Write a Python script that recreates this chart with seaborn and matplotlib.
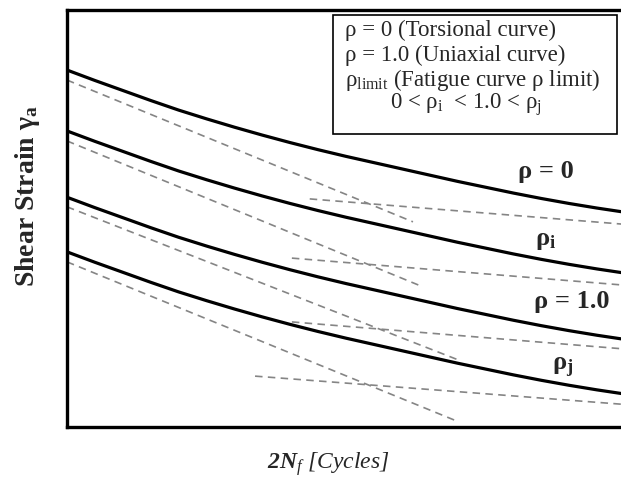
import matplotlib
matplotlib.use("Agg")
import matplotlib.pyplot as plt
import matplotlib.patches as mpatches
import numpy as np
import pandas as pd
import seaborn as sns

# Fatigue life (arbitrary, unlabelled units along 2Nf)
life = [0, 5, 10, 15, 20, 25, 30, 35, 40, 45, 50,
        55, 60, 65, 70, 75, 80, 85, 90, 95, 100]

# Total shear-strain curves for each stress ratio rho (arbitrary units)
strain_rho0 = [85.6, 83.1, 80.7, 78.3, 76.0, 73.9, 71.9, 70.0, 68.2, 66.5, 64.9,
               63.4, 61.9, 60.4, 58.9, 57.5, 56.1, 54.8, 53.6, 52.5, 51.5]
strain_rhoi = [71.0, 68.5, 66.1, 63.7, 61.4, 59.3, 57.3, 55.4, 53.6, 51.9, 50.3,
               48.8, 47.3, 45.8, 44.3, 42.9, 41.5, 40.2, 39.0, 37.9, 36.9]
strain_rho1 = [55.1, 52.6, 50.2, 47.8, 45.5, 43.4, 41.4, 39.5, 37.7, 36.0, 34.4,
               32.9, 31.4, 29.9, 28.4, 27.0, 25.6, 24.3, 23.1, 22.0, 21.0]
strain_rhoj = [42.0, 39.5, 37.1, 34.7, 32.4, 30.3, 28.3, 26.4, 24.6, 22.9, 21.3,
               19.8, 18.3, 16.8, 15.3, 13.9, 12.5, 11.2, 10.0, 8.9, 7.9]

curve_names = ["rho0", "rhoi", "rho1", "rhoj"]
curve_values = [strain_rho0, strain_rhoi, strain_rho1, strain_rhoj]

# Plastic (steep) and elastic (shallow) components: start/end points
plastic_life = [[0, 62.0], [0, 63.8], [0, 70.1], [0, 69.9]]
plastic_strain = [[83.2, 49.2], [68.6, 33.6], [52.8, 16.1], [39.6, 1.4]]
elastic_life = [[43.5, 100], [40.3, 100], [40.3, 100], [33.7, 100]]
elastic_strain = [[54.7, 48.6], [40.5, 34.0], [25.2, 18.7], [12.2, 5.4]]

sns.set_theme(style="white")
plt.rcParams["font.family"] = ["Liberation Serif", "DejaVu Serif"]
plt.rcParams["mathtext.fontset"] = "custom"
plt.rcParams["mathtext.rm"] = "Liberation Serif"
plt.rcParams["mathtext.it"] = "Liberation Serif:italic"
plt.rcParams["mathtext.bf"] = "Liberation Serif:bold"
plt.rcParams["mathtext.bfit"] = "Liberation Serif:italic:bold"

curves = pd.DataFrame({
    "life": np.tile(life, len(curve_names)),
    "strain": np.concatenate(curve_values),
    "curve": np.repeat(curve_names, len(life)),
})

comp_rows = []
for k, name in enumerate(curve_names):
    for (xs, ys, kind) in ((plastic_life[k], plastic_strain[k], "plastic"),
                           (elastic_life[k], elastic_strain[k], "elastic")):
        for x, y in zip(xs, ys):
            comp_rows.append({"life": x, "strain": y, "seg": f"{name}-{kind}"})
components = pd.DataFrame(comp_rows)

fig = plt.figure(figsize=(6.21, 4.84), dpi=100)
ax = fig.add_axes([67 / 621, 1 - 427 / 484, 558 / 621, 417 / 484])

seg_names = components["seg"].unique()
sns.lineplot(data=components, x="life", y="strain", hue="seg",
             palette={s: "#858585" for s in seg_names}, estimator=None,
             sort=False, legend=False, linewidth=1.2, ax=ax)
for line in ax.get_lines():
    line.set_dashes((4.5, 3.2))

sns.lineplot(data=curves, x="life", y="strain", hue="curve",
             palette={c: "black" for c in curve_names}, estimator=None,
             sort=False, legend=False, linewidth=2.3, ax=ax)

ax.set_xlim(0, 100)
ax.set_ylim(0, 100)
ax.set_xticks([])
ax.set_yticks([])
for sp in ax.spines.values():
    sp.set_visible(True)
    sp.set_color("black")
    sp.set_linewidth(2.4)

ax.set_xlabel(r"$\mathbfit{2N}_{\mathit{f}}$ [Cycles]", fontsize=17,
              fontstyle="italic")
ax.xaxis.set_label_coords(0.468, -0.055)
ax.set_ylabel(r"Shear Strain γ$_{\mathbf{a}}$", fontsize=20,
              fontweight="bold")
ax.yaxis.set_label_coords(-0.044, 0.553)

# Curve labels
lab_kw = dict(transform=ax.transAxes, fontsize=19, fontweight="bold",
              ha="center", va="center")
ax.text(0.858, 0.612, "ρ = 0", **lab_kw)
ax.text(0.857, 0.448, r"ρ$_{\mathbf{i}}$", **lab_kw)
ax.text(0.905, 0.300, "ρ = 1.0", **lab_kw)
ax.text(0.889, 0.141, r"ρ$_{\mathbf{j}}$", **lab_kw)

# Explanatory box
ax.add_patch(mpatches.Rectangle((0.477, 0.703), 0.509, 0.285,
                                transform=ax.transAxes, fill=True,
                                facecolor="white", edgecolor="black",
                                linewidth=1.2, zorder=5))
box_kw = dict(transform=ax.transAxes, fontsize=16.5, ha="left",
              va="baseline", zorder=6)
ax.text(0.498, 0.9376, "ρ = 0 (Torsional curve)", **box_kw)
ax.text(0.498, 0.8777, "ρ = 1.0 (Uniaxial curve)", **box_kw)
ax.text(0.498, 0.8177, r"ρ$_{\mathrm{limit}}$ (Fatigue curve ρ limit)", **box_kw)
ax.text(0.579, 0.7626, r"0 < ρ$_{\mathrm{i}}$  < 1.0 < ρ$_{\mathrm{j}}$", **box_kw)

fig.savefig("out.png", dpi=100)
